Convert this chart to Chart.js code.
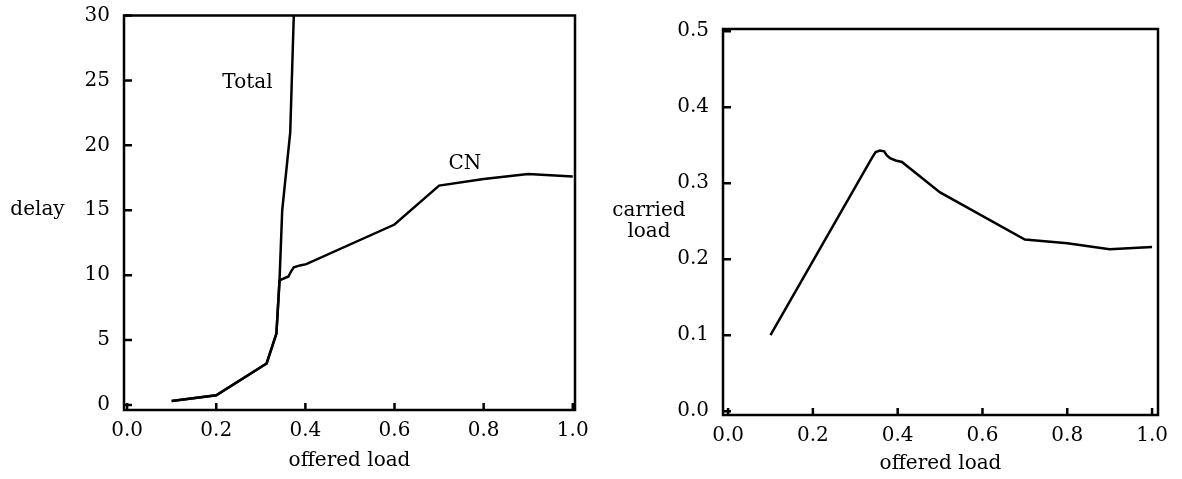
<!DOCTYPE html>
<html><head><meta charset="utf-8">
<script src="https://cdn.jsdelivr.net/npm/chart.js@4"></script>
<style>
html,body{margin:0;padding:0;background:#fff;overflow:hidden}
#c1{position:absolute;left:0;top:0}
#c2{position:absolute;left:600px;top:0}
</style></head><body>
<canvas id="c1" width="600" height="479"></canvas>
<canvas id="c2" width="582" height="479"></canvas>
<script>
// ---- data ----
const offeredTicks = [0.0, 0.2, 0.4, 0.6, 0.8, 1.0];
const delayTicks = [0, 5, 10, 15, 20, 25, 30];
const carriedTicks = [0.0, 0.1, 0.2, 0.3, 0.4, 0.5];

const totalLoad  = [0.1, 0.2, 0.313, 0.335, 0.342, 0.348, 0.366, 0.374];
const totalDelay = [0.3, 0.75, 3.2, 5.5, 9.6, 15.0, 21.0, 30.0];

const cnLoad  = [0.1, 0.2, 0.313, 0.335, 0.342, 0.362, 0.368, 0.374, 0.388, 0.402, 0.6, 0.7, 0.8, 0.9, 1.0];
const cnDelay = [0.3, 0.75, 3.2, 5.5, 9.6, 9.9, 10.3, 10.6, 10.75, 10.85, 13.9, 16.9, 17.4, 17.8, 17.6];

const carriedOffered = [0.1, 0.34, 0.348, 0.358, 0.368, 0.374, 0.382, 0.395, 0.41, 0.5, 0.7, 0.8, 0.9, 1.0];
const carriedLoad    = [0.1, 0.334, 0.341, 0.343, 0.342, 0.337, 0.333, 0.330, 0.328, 0.288, 0.226, 0.221, 0.213, 0.216];

// ---- helpers ----
const FONT = 'DejaVu Serif';
const INK = '#000';
function pts(xs, ys) { return xs.map((x, i) => ({ x: x, y: ys[i] })); }

const framePlugin = {
  id: 'frame',
  afterDraw(chart, args, opts) {
    const { ctx, chartArea: a } = chart;
    const x = chart.scales.x, y = chart.scales.y;
    ctx.save();
    ctx.strokeStyle = INK; ctx.lineWidth = 2.5;
    ctx.strokeRect(a.left, a.top, a.right - a.left, a.bottom - a.top);
    ctx.beginPath();
    x.ticks.forEach(t => { const p = x.getPixelForValue(t.value); ctx.moveTo(p, a.bottom); ctx.lineTo(p, a.bottom - 7); });
    y.ticks.forEach(t => { const p = y.getPixelForValue(t.value); ctx.moveTo(a.left, p); ctx.lineTo(a.left + 8, p); });
    ctx.stroke();
    ctx.fillStyle = INK; ctx.font = '20px "' + FONT + '"';
    ctx.textAlign = 'center'; ctx.textBaseline = 'middle';
    (opts.notes || []).forEach(n => {
      const px = n.px !== undefined ? n.px : x.getPixelForValue(n.x);
      const py = y.getPixelForValue(n.y);
      ctx.fillText(n.text, px, py);
    });
    ctx.restore();
  }
};

function xScale(min, max, h, titlePad) {
  return {
    type: 'linear', position: 'bottom', min: min, max: max,
    afterBuildTicks: s => { s.ticks = offeredTicks.map(v => ({ value: v })); },
    afterFit: s => { s.height = h; s.paddingLeft = 0; s.paddingRight = 0; },
    grid: { display: false, drawTicks: false },
    border: { display: false },
    ticks: { color: INK, font: { family: FONT, size: 20 }, padding: 9, maxRotation: 0, autoSkip: false,
             callback: v => Number(v).toFixed(1) },
    title: { display: true, text: 'offered load', color: INK, font: { family: FONT, size: 20 },
             padding: { top: 0, bottom: titlePad } }
  };
}
function yScale(min, max, arr, w, fmt) {
  return {
    type: 'linear', min: min, max: max,
    afterBuildTicks: s => { s.ticks = arr.map(v => ({ value: v })); },
    afterFit: s => { s.width = w; s.paddingTop = 0; s.paddingBottom = 0; },
    grid: { display: false, drawTicks: false },
    border: { display: false },
    ticks: { color: INK, font: { family: FONT, size: 20 }, padding: 14, autoSkip: false, callback: fmt }
  };
}
function lineDs(label, data) {
  return { label: label, data: data, showLine: true, borderColor: INK, backgroundColor: INK,
           borderWidth: 2.5, pointRadius: 0, tension: 0, fill: false };
}

new Chart(document.getElementById('c1'), {
  type: 'scatter',
  data: { datasets: [ lineDs('Total', pts(totalLoad, totalDelay)), lineDs('CN', pts(cnLoad, cnDelay)) ] },
  options: {
    responsive: false, animation: false, devicePixelRatio: 1,
    layout: { padding: { top: 15.5, right: 25, left: 0, bottom: 0 } },
    plugins: { legend: { display: false }, tooltip: { enabled: false },
      frame: { notes: [ { text: 'Total', x: 0.27, y: 24.8 }, { text: 'CN', x: 0.758, y: 18.6 }, { text: 'delay', px: 37.5, y: 15 } ] } },
    scales: { x: xScale(-0.007, 1.005, 69, 6), y: yScale(-0.385, 30, delayTicks, 124, v => String(v)) }
  },
  plugins: [framePlugin]
});

new Chart(document.getElementById('c2'), {
  type: 'scatter',
  data: { datasets: [ lineDs('carried load', pts(carriedOffered, carriedLoad)) ] },
  options: {
    responsive: false, animation: false, devicePixelRatio: 1,
    layout: { padding: { top: 29, right: 24, left: 0, bottom: 0 } },
    plugins: { legend: { display: false }, tooltip: { enabled: false },
      frame: { notes: [ { text: 'carried', px: 49, y: 0.264 }, { text: 'load', px: 49, y: 0.236 } ] } },
    scales: { x: xScale(-0.012, 1.014, 64, 3), y: yScale(-0.005, 0.503, carriedTicks, 123, v => Number(v).toFixed(1)) }
  },
  plugins: [framePlugin]
});
</script>
</body></html>
